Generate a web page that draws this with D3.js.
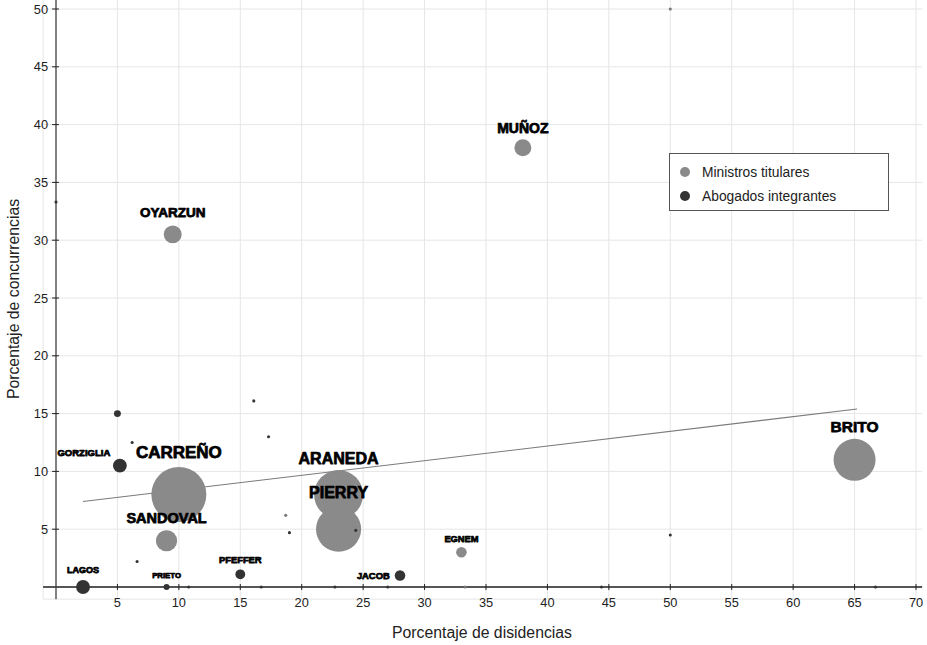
<!DOCTYPE html>
<html>
<head>
<meta charset="utf-8">
<script src="https://cdn.jsdelivr.net/npm/d3@7"></script>
<style>
  html, body { margin: 0; padding: 0; background: #fff; }
  svg { display: block; }
  text { font-family: "Liberation Sans", Arial, Helvetica, sans-serif; }
</style>
</head>
<body>
<svg id="chart" width="927" height="645"></svg>
<script>
// ---------------- DATA ----------------
const ministroNames = ["MUÑOZ", "OYARZUN", "BRITO", "CARREÑO", "ARANEDA", "PIERRY", "SANDOVAL", "EGNEM"];
const ministroDisid = [38, 9.5, 65, 10, 23, 23, 9, 33];
const ministroConc  = [38, 30.5, 11, 8, 8, 5, 4, 3];
const ministroCasos = [18, 20, 110, 189, 150, 127, 28, 7];

const abogadoNames = ["GORZIGLIA", "LAGOS", "PRIETO", "PFEFFER", "JACOB"];
const abogadoDisid = [5.2, 2.2, 9, 15, 28];
const abogadoConc  = [10.5, 0, 0, 1.1, 1];
const abogadoCasos = [12, 12, 2.25, 6, 7];

// unlabeled (small) points
const otrosMinDisid = [18.7, 50, 33.3, 23.9];
const otrosMinConc  = [6.2, 50, 0, 8.7];
const otrosMinCasos = [0.6, 0.6, 0.6, 0.6];

const otrosAboDisid = [5, 6.2, 16.1, 17.3, 6.6, 19, 24.4, 50, 0, 10.8, 16.7, 22.7, 27, 44.4, 66.7];
const otrosAboConc  = [15, 12.5, 16.1, 13, 2.2, 4.7, 4.9, 4.5, 33.3, 0, 0, 0, 0, 0, 0];
const otrosAboCasos = [3, 0.6, 0.6, 0.6, 0.6, 0.6, 0.6, 0.6, 0.6, 0.6, 0.6, 0.6, 0.6, 0.6, 0.6];

// trend line (endpoints in data units)
const trendDisid = [2.2, 65.2];
const trendConc  = [7.4, 15.4];

const xTicks = [5, 10, 15, 20, 25, 30, 35, 40, 45, 50, 55, 60, 65, 70];
const yTicks = [5, 10, 15, 20, 25, 30, 35, 40, 45, 50];
const legendLabels = ["Ministros titulares", "Abogados integrantes"];
const xTitle = "Porcentaje de disidencias";
const yTitle = "Porcentaje de concurrencias";

// ---------------- STYLE / LAYOUT ----------------
const colMin = "#8a8a8a";
const colAbo = "#333333";
const labelLayout = {
  "MUÑOZ":     {size: 14,   gap: 6.5},
  "OYARZUN":   {size: 13.5, gap: 8},
  "BRITO":     {size: 15.5, gap: 6.5},
  "CARREÑO":   {size: 17,   gap: 9.5},
  "ARANEDA":   {size: 16,   gap: 6.5},
  "PIERRY":    {size: 16,   gap: 8.5},
  "SANDOVAL":  {size: 14.5, gap: 7},
  "EGNEM":     {size: 9.3,  gap: 5.3},
  "GORZIGLIA": {size: 9.5,  gap: 2.7, dx: -36},
  "LAGOS":     {size: 9,    gap: 6.7},
  "PRIETO":    {size: 7.8,  gap: 6},
  "PFEFFER":   {size: 9.4,  gap: 6.7},
  "JACOB":     {size: 9.4,  side: true}
};

const svg = d3.select("#chart");
const x = d3.scaleLinear().domain([0, 70]).range([56, 916]);
const y = d3.scaleLinear().domain([0, 50]).range([587, 9]);
const r = d3.scaleSqrt().domain([0, 189]).range([0, 27.5]);

const gx0 = x(-1.05), gx1 = x(70.5), gy0 = y(51), gy1 = y(-1.05);

// grid
const grid = svg.append("g");
grid.selectAll("line.v").data([0].concat(xTicks)).join("line")
  .attr("x1", d => x(d)).attr("x2", d => x(d))
  .attr("y1", gy0).attr("y2", gy1)
  .attr("stroke", "#e6e6e6").attr("stroke-width", 1);
grid.selectAll("line.h").data([0].concat(yTicks)).join("line")
  .attr("y1", d => y(d)).attr("y2", d => y(d))
  .attr("x1", gx0).attr("x2", gx1)
  .attr("stroke", "#e6e6e6").attr("stroke-width", 1);
grid.append("line").attr("x1", gx0).attr("x2", gx1).attr("y1", gy1).attr("y2", gy1)
  .attr("stroke", "#e6e6e6");
grid.append("line").attr("x1", gx0).attr("x2", gx0).attr("y1", gy0).attr("y2", gy1)
  .attr("stroke", "#e6e6e6");

// axes lines
svg.append("line").attr("x1", gx0).attr("x2", gx1).attr("y1", y(0)).attr("y2", y(0))
  .attr("stroke", "#222").attr("stroke-width", 1.3);
svg.append("line").attr("x1", x(0)).attr("x2", x(0)).attr("y1", gy0).attr("y2", gy1)
  .attr("stroke", "#444").attr("stroke-width", 1.3);

// tick marks
svg.selectAll("line.xt").data(xTicks).join("line")
  .attr("x1", d => x(d)).attr("x2", d => x(d))
  .attr("y1", y(0) - 3).attr("y2", y(0) + 3)
  .attr("stroke", "#222").attr("stroke-width", 1);
svg.selectAll("line.yt").data(yTicks).join("line")
  .attr("y1", d => y(d)).attr("y2", d => y(d))
  .attr("x1", x(0) - 4).attr("x2", x(0) + 3)
  .attr("stroke", "#222").attr("stroke-width", 1);

// tick labels
svg.selectAll("text.xl").data(xTicks).join("text")
  .attr("x", d => x(d)).attr("y", y(0) + 20)
  .attr("text-anchor", "middle").attr("font-size", 12.8).attr("fill", "#222")
  .text(d => d);
svg.selectAll("text.yl").data(yTicks).join("text")
  .attr("x", x(0) - 8).attr("y", d => y(d) + 4.5)
  .attr("text-anchor", "end").attr("font-size", 12.8).attr("fill", "#222")
  .text(d => d);

// axis titles
svg.append("text").attr("x", 482).attr("y", 638).attr("text-anchor", "middle")
  .attr("font-size", 15.8).attr("fill", "#222").text(xTitle);
svg.append("text").attr("transform", "translate(19,299) rotate(-90)")
  .attr("text-anchor", "middle").attr("font-size", 15.8).attr("fill", "#222").text(yTitle);

// trend line
svg.append("line")
  .attr("x1", x(trendDisid[0])).attr("y1", y(trendConc[0]))
  .attr("x2", x(trendDisid[1])).attr("y2", y(trendConc[1]))
  .attr("stroke", "#7a7a7a").attr("stroke-width", 1.1);

// build records
const ministros = ministroNames.map((n, i) => ({name: n, dx: ministroDisid[i], cy: ministroConc[i], n: ministroCasos[i], col: colMin}));
const abogados = abogadoNames.map((n, i) => ({name: n, dx: abogadoDisid[i], cy: abogadoConc[i], n: abogadoCasos[i], col: colAbo}));
const otrosMin = otrosMinDisid.map((d, i) => ({dx: d, cy: otrosMinConc[i], n: otrosMinCasos[i], col: colMin}));
const otrosAbo = otrosAboDisid.map((d, i) => ({dx: d, cy: otrosAboConc[i], n: otrosAboCasos[i], col: colAbo}));

const pts = svg.append("g");
pts.selectAll("circle.m").data(ministros).join("circle")
  .attr("cx", d => x(d.dx)).attr("cy", d => y(d.cy)).attr("r", d => r(d.n)).attr("fill", d => d.col);
pts.selectAll("circle.a").data(abogados).join("circle")
  .attr("cx", d => x(d.dx)).attr("cy", d => y(d.cy)).attr("r", d => r(d.n)).attr("fill", d => d.col);
pts.selectAll("circle.om").data(otrosMin).join("circle")
  .attr("cx", d => x(d.dx)).attr("cy", d => y(d.cy)).attr("r", d => r(d.n)).attr("fill", "#777");
pts.selectAll("circle.oa").data(otrosAbo).join("circle")
  .attr("cx", d => x(d.dx)).attr("cy", d => y(d.cy)).attr("r", d => r(d.n)).attr("fill", d => d.col);

// labels
const labelled = ministros.concat(abogados);
svg.append("g").selectAll("text").data(labelled).join("text")
  .each(function(d) {
    const L = labelLayout[d.name];
    const t = d3.select(this);
    const cx = x(d.dx), cy = y(d.cy), rr = r(d.n);
    if (L.side) {
      t.attr("x", cx - rr - 5).attr("y", cy + L.size * 0.36).attr("text-anchor", "end");
    } else {
      t.attr("x", cx + (L.dx || 0)).attr("y", cy - rr - L.gap).attr("text-anchor", "middle");
    }
    t.attr("font-size", L.size);
  })
  .attr("font-weight", "bold").attr("fill", "#000")
  .attr("stroke", "#000").attr("stroke-width", 0.75).attr("stroke-linejoin", "round")
  .text(d => d.name);

// legend
const lg = svg.append("g");
lg.append("rect").attr("x", 669.5).attr("y", 153.5).attr("width", 219).attr("height", 57)
  .attr("fill", "#fff").attr("stroke", "#555").attr("stroke-width", 1);
const legCols = [colMin, colAbo];
lg.selectAll("circle").data(legendLabels).join("circle")
  .attr("cx", 685).attr("cy", (d, i) => 172 + i * 24).attr("r", 5)
  .attr("fill", (d, i) => legCols[i]);
lg.selectAll("text").data(legendLabels).join("text")
  .attr("x", 702).attr("y", (d, i) => 177 + i * 24)
  .attr("font-size", 13.8).attr("fill", "#222").text(d => d);
</script>
</body>
</html>
